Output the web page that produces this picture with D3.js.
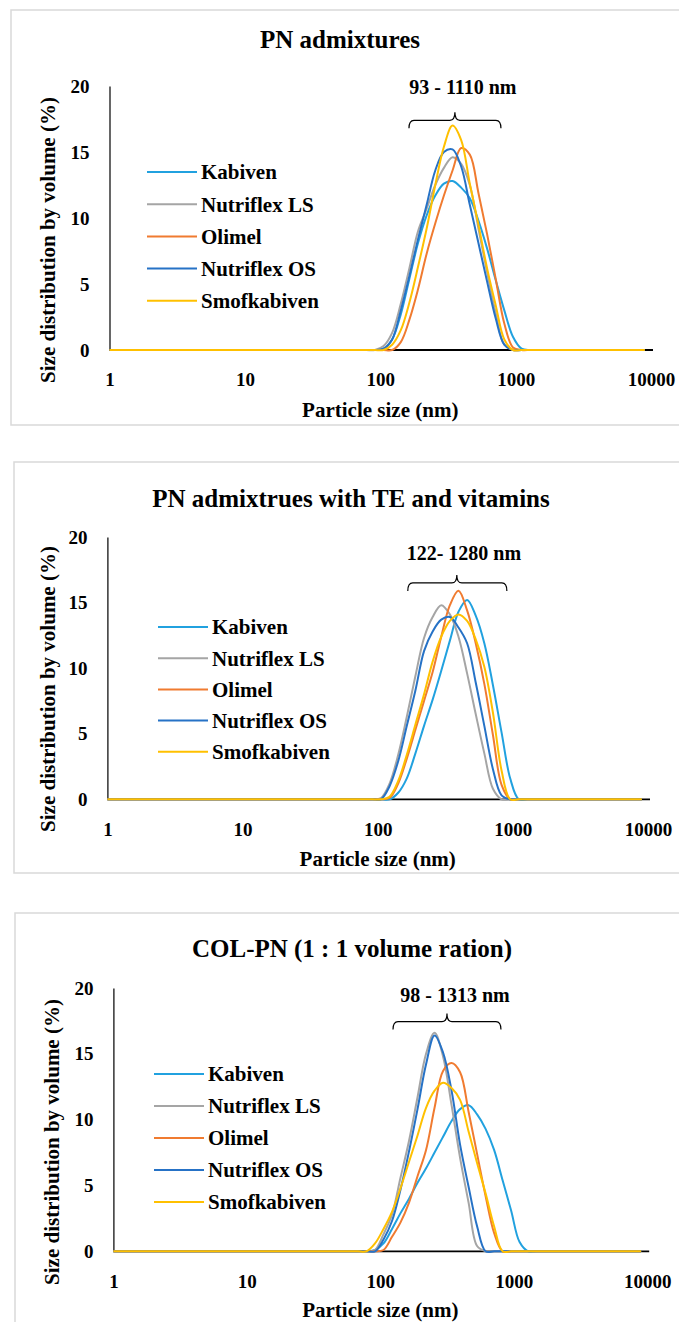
<!DOCTYPE html>
<html>
<head>
<meta charset="utf-8">
<script src="https://cdnjs.cloudflare.com/ajax/libs/d3/7.8.5/d3.min.js"></script>
<style>
  body { margin: 0; background: #fff; }
  svg text { font-family: "Liberation Serif", "Times New Roman", serif; font-weight: bold; fill: #000; }
</style>
</head>
<body>
<div id="chart"></div>
<script>
// particle size bins (nm), shared by every series
const sizes = [1, 58.77, 68.06, 78.82, 91.28, 105.7, 122.4, 141.8, 164.2, 190.1, 220.2, 255.0, 295.3, 342.0,
  396.1, 458.7, 531.2, 615.1, 712.4, 825.0, 955.4, 1106, 1281, 1484, 9000];

const seriesNames = ["Kabiven", "Nutriflex LS", "Olimel", "Nutriflex OS", "Smofkabiven"];
const seriesColors = ["#21a1df", "#a5a5a5", "#f07b30", "#2672c6", "#ffc000"];
const xTicks = [1, 10, 100, 1000, 10000];
const yTicks = [0, 5, 10, 15, 20];
const titles = ["PN admixtures", "PN admixtrues with TE and vitamins", "COL-PN (1 : 1 volume ration)"];
const rangeLabels = ["93 - 1110 nm", "122- 1280 nm", "98 - 1313 nm"];

// PN admixtures
const p1Kabiven = [0, 0, 0, 0, 0, 0.1, 0.8, 2.7, 5.4, 8.1, 10.2, 11.7, 12.6, 12.8, 12.3, 11.5, 9.8, 7.7, 5.3, 3.0, 1.0, 0.1, 0, 0, 0];
const p1NutriLS = [0, 0, 0, 0, 0, 0.3, 1.3, 3.5, 6.2, 9.0, 10.7, 12.5, 13.8, 14.6, 14.1, 12.5, 9.2, 5.9, 2.8, 0.4, 0, 0, 0, 0, 0];
const p1Olimel  = [0, 0, 0, 0, 0, 0, 0, 0.6, 2.3, 4.6, 7.3, 9.6, 11.7, 13.6, 15.3, 14.8, 11.9, 8.8, 5.4, 2.0, 0.2, 0, 0, 0, 0];
const p1NutriOS = [0, 0, 0, 0, 0, 0.1, 0.8, 3.0, 5.6, 8.4, 11.0, 13.6, 15.0, 15.2, 13.9, 11.0, 8.1, 5.2, 2.4, 0.4, 0, 0, 0, 0, 0];
const p1Smof    = [0, 0, 0, 0, 0, 0, 0.4, 1.5, 3.6, 6.3, 9.2, 12.5, 15.4, 17.0, 15.9, 12.6, 9.5, 6.2, 3.4, 0.8, 0, 0, 0, 0, 0];

// PN admixtures with TE and vitamins
const p2Kabiven = [0, 0, 0, 0, 0, 0, 0, 0.5, 1.6, 3.5, 5.6, 7.6, 9.8, 12.1, 14.3, 15.2, 14.0, 11.9, 8.7, 5.1, 1.6, 0, 0, 0, 0];
const p2NutriLS = [0, 0, 0, 0, 0, 0.1, 1.2, 3.4, 6.3, 9.4, 12.3, 13.9, 14.8, 14.1, 12.4, 9.6, 6.5, 3.5, 0.8, 0, 0, 0, 0, 0, 0];
const p2Olimel  = [0, 0, 0, 0, 0, 0, 0.1, 1.2, 3.1, 5.3, 7.5, 9.7, 12.4, 14.8, 15.9, 14.4, 11.9, 8.8, 4.9, 1.1, 0, 0, 0, 0, 0];
const p2NutriOS = [0, 0, 0, 0, 0, 0, 1.0, 2.9, 5.6, 8.3, 11.3, 12.8, 13.7, 13.9, 13.1, 11.9, 8.9, 5.6, 2.3, 0.3, 0, 0, 0, 0, 0];
const p2Smof    = [0, 0, 0, 0, 0, 0, 0.2, 1.4, 3.4, 5.7, 8.0, 10.5, 12.4, 13.6, 14.1, 13.6, 12.2, 10.1, 6.6, 2.2, 0, 0, 0, 0, 0];

// COL-PN 1:1
const p3Kabiven = [0, 0, 0, 0, 0.1, 0.6, 1.7, 2.9, 4.0, 5.2, 6.3, 7.5, 8.7, 9.9, 10.8, 11.1, 10.4, 9.3, 7.7, 5.4, 3.1, 0.7, 0, 0, 0];
const p3NutriLS = [0, 0, 0, 0, 0.1, 1.3, 2.8, 5.6, 8.4, 11.7, 15.0, 16.6, 14.8, 11.1, 7.1, 3.7, 0.4, 0, 0, 0, 0, 0, 0, 0, 0];
const p3Olimel  = [0, 0, 0, 0, 0, 0.1, 1.1, 2.2, 3.7, 5.7, 7.7, 10.9, 13.7, 14.3, 13.6, 10.6, 7.4, 4.2, 1.4, 0, 0, 0, 0, 0, 0];
const p3NutriOS = [0, 0, 0, 0, 0, 0.9, 2.3, 4.7, 7.6, 10.8, 14.2, 16.4, 15.1, 12.2, 8.1, 4.9, 1.9, 0, 0, 0, 0, 0, 0, 0, 0];
const p3Smof    = [0, 0, 0, 0, 0.6, 1.7, 3.0, 4.8, 6.8, 8.8, 10.9, 12.2, 12.8, 12.4, 11.5, 9.1, 6.7, 4.4, 1.9, 0, 0, 0, 0, 0, 0];

const allValues = [
  [p1Kabiven, p1NutriLS, p1Olimel, p1NutriOS, p1Smof],
  [p2Kabiven, p2NutriLS, p2Olimel, p2NutriOS, p2Smof],
  [p3Kabiven, p3NutriLS, p3Olimel, p3NutriOS, p3Smof]
];

// layout of each panel (pixels) + where the bracket sits (data units)
const panels = [
  {box: [11, 10, 720, 415], x0: 109.5, x1: 651, y0: 350, y20: 86, titleX: 340, titleY: 48,
   legX: 147, legY: 172, legStep: 32.2, yTitle: [48, 240], xTitleDy: 60,
   br: {lo: 163, hi: 779, mid: 356, level: 17.4, tx: 408, ty: 19.37}},
  {box: [14, 462, 720, 411], x0: 107.4, x1: 648, y0: 799.3, y20: 537, titleX: 351, titleY: 507,
   legX: 158, legY: 627, legStep: 31.2, yTitle: [48, 689], xTitleDy: 59,
   br: {lo: 167, hi: 903, mid: 385, level: 16.5, tx: 434, ty: 18.27}},
  {box: [15, 913, 720, 500], x0: 113.4, x1: 647.2, y0: 1251.3, y20: 988, titleX: 352, titleY: 957,
   legX: 154, legY: 1074, legStep: 32, yTitle: [52, 1142], xTitleDy: 58,
   br: {lo: 124.5, hi: 802, mid: 316, level: 17.45, tx: 363, ty: 18.9}}
];

const svg = d3.select("#chart").append("svg")
  .attr("width", 679)
  .attr("height", 1322);

panels.forEach(function(p, i) {
  const g = svg.append("g");

  g.append("rect")
    .attr("x", p.box[0]).attr("y", p.box[1])
    .attr("width", p.box[2]).attr("height", p.box[3])
    .attr("fill", "none")
    .attr("stroke", "#d9d9d9")
    .attr("stroke-width", 1.5);

  const x = d3.scaleLog().domain([1, 10000]).range([p.x0, p.x1]);
  const y = d3.scaleLinear().domain([0, 20]).range([p.y0, p.y20]);

  // title
  g.append("text")
    .attr("x", p.titleX).attr("y", p.titleY)
    .attr("text-anchor", "middle")
    .style("font-size", "25px")
    .text(titles[i]);

  // x axis
  const xAxis = g.append("g")
    .attr("transform", "translate(0," + p.y0 + ")")
    .call(d3.axisBottom(x).tickValues(xTicks).tickFormat(d3.format("d")).tickSize(0).tickPadding(23));
  xAxis.select(".domain").attr("stroke", "#000").attr("stroke-width", 1.8)
    .attr("d", "M" + p.x0 + ",0H" + (p.x1 + 2));
  xAxis.selectAll("text").style("font-size", "19px").style("font-family", "Liberation Serif").style("font-weight", "bold");

  // y axis
  const yAxis = g.append("g")
    .attr("transform", "translate(" + p.x0 + ",0)")
    .call(d3.axisLeft(y).tickValues(yTicks).tickSize(0).tickPadding(20));
  yAxis.select(".domain").attr("stroke", "#000").attr("stroke-width", 1.2);
  yAxis.selectAll("text").style("font-size", "19px").style("font-family", "Liberation Serif").style("font-weight", "bold");

  // axis titles
  g.append("text")
    .attr("x", x(100)).attr("y", p.y0 + p.xTitleDy)
    .attr("dy", "0.35em")
    .attr("text-anchor", "middle")
    .style("font-size", "21px")
    .text("Particle size (nm)");

  g.append("text")
    .attr("transform", "translate(" + p.yTitle[0] + "," + p.yTitle[1] + ") rotate(-90)")
    .attr("dy", "0.35em")
    .attr("text-anchor", "middle")
    .style("font-size", "21px")
    .text("Size distribution by volume (%)");

  // series
  const line = d3.line()
    .x(function(d) { return x(d[0]); })
    .y(function(d) { return y(d[1]); })
    .curve(d3.curveCatmullRom.alpha(0.5));

  allValues[i].forEach(function(vals, k) {
    g.append("path")
      .datum(sizes.map(function(s, j) { return [s, vals[j]]; }))
      .attr("fill", "none")
      .attr("stroke", seriesColors[k])
      .attr("stroke-width", 2)
      .attr("d", line);
  });

  // legend
  const leg = g.selectAll(".leg")
    .data(seriesNames)
    .enter()
    .append("g")
    .attr("transform", function(d, k) { return "translate(" + p.legX + "," + (p.legY + k * p.legStep) + ")"; });
  leg.append("line")
    .attr("x1", 0).attr("x2", 50)
    .attr("stroke", function(d, k) { return seriesColors[k]; })
    .attr("stroke-width", 2);
  leg.append("text")
    .attr("x", 54).attr("dy", "0.35em")
    .style("font-size", "21px")
    .text(function(d) { return d; });

  // range bracket
  const b = p.br;
  const xl = x(b.lo), xr = x(b.hi), xm = x(b.mid), yl = y(b.level);
  g.append("path")
    .attr("d", "M" + xl + "," + (yl + 8) + "Q" + xl + "," + yl + " " + (xl + 5) + "," + yl +
      "L" + (xm - 5) + "," + yl + "Q" + xm + "," + yl + " " + xm + "," + (yl - 8) +
      "Q" + xm + "," + yl + " " + (xm + 5) + "," + yl +
      "L" + (xr - 5) + "," + yl + "Q" + xr + "," + yl + " " + xr + "," + (yl + 8))
    .attr("fill", "none")
    .attr("stroke", "#000")
    .attr("stroke-width", 1.2);

  g.append("text")
    .attr("x", x(b.tx)).attr("y", y(b.ty))
    .attr("text-anchor", "middle")
    .style("font-size", "20px")
    .text(rangeLabels[i]);
});
</script>
</body>
</html>
